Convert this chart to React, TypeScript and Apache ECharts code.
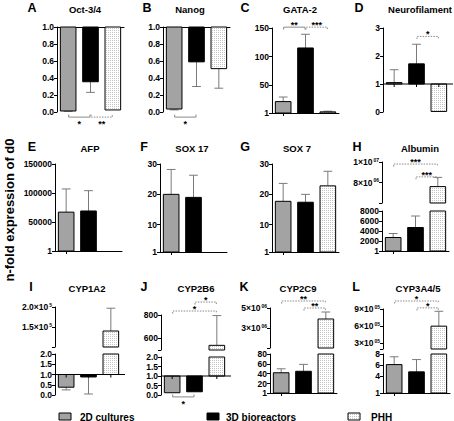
import React, { useEffect, useRef } from "react";
import * as echarts from "echarts";

// ---------- data ----------
const groups = ["2D cultures", "3D bioreactors", "PHH"];

const oct34Mean = [0.012, 0.356, 0.024];
const oct34Err = [0.004, 0.125, 0.0];
const nanogMean = [0.035, 0.59, 0.51];
const nanogErr = [0.01, 0.29, 0.23];
const gata2Mean = [21, 115, 3];
const gata2Err = [8, 24, 1.2];
const neuroMean = [1.05, 1.72, 0.02];
const neuroErr = [0.46, 0.7, 0];
const afpMean = [67000, 69000, null];
const afpErr = [40000, 35000, null];
const sox17Mean = [20, 19, null];
const sox17Err = [8.2, 7.3, null];
const sox7Mean = [17.7, 17.4, 22.8];
const sox7Err = [5.9, 2.6, 4.8];
const albuminMean = [2700, 4700, 7.6e6];
const albuminErr = [800, 2300, 0.9e6];
const cyp1a2Mean = [0.38, 0.88, 1.4e5];
const cyp1a2Err = [0.13, 0.83, 0.57e5];
const cyp2b6Mean = [0.12, 0.17, 540];
const cyp2b6Err = [0, 0, 255];
const cyp2c9Mean = [42, 45, 3.9e6];
const cyp2c9Err = [8, 14, 0.7e6];
const cyp3a4Mean = [6.1, 4.8, 6.0e5];
const cyp3a4Err = [1.4, 2.2, 2.6e5];

// significance brackets: [from group, to group, y value, label]
const oct34Sig = [[0, 1, -0.06, "*"], [1, 2, -0.06, "**"]];
const nanogSig = [[0, 1, -0.06, "*"]];
const gata2Sig = [[0, 1, 151.5, "**"], [1, 2, 151.5, "***"]];
const neuroSig = [[1, 2, 2.7, "*"]];
const albuminSig = [[0, 2, 9.8e6, "***"], [1, 2, 8.55e6, "***"]];
const cyp2b6TopSig = [[1, 2, 911, "*"], [0, 2, 834, "*"]];
const cyp2b6LowSig = [[0, 1, -0.1, "*"]];
const cyp2c9Sig = [[0, 2, 5.7e6, "**"], [1, 2, 5.0e6, "**"]];
const cyp3a4Sig = [[0, 2, 1.04e6, "*"], [1, 2, 9.2e5, "*"]];

// tick label sets
const gataTicks = [1, 50, 100, 150];
const afpTicks = [1, 50000, 100000, 150000];
const soxTicks = [1, 10, 20, 30];
const albUpperTicks = [8e6, 1e7];
const albLowerTicks = [1, 2000, 4000, 6000, 8000];
const cyp1a2UpperTicks = [1.5e5, 2e5];
const cyp2b6UpperTicks = [600, 800];
const cyp2c9UpperTicks = [3e6, 5e6];
const cyp2c9LowerTicks = [1, 20, 40, 60, 80];
const cyp3a4UpperTicks = [3e5, 6e5, 9e5];
const cyp3a4LowerTicks = [1, 4, 6, 8];

// ---------- styles ----------
const FONT = "Liberation Sans, Arial, Helvetica, sans-serif";
const dotSvg =
  '<svg xmlns="http://www.w3.org/2000/svg" width="2" height="2"><rect width="2" height="2" fill="#ffffff"/><rect width="1" height="1" fill="#c4c4c4"/></svg>';
const phhFill: any = {
  image: "data:image/svg+xml;charset=utf-8," + encodeURIComponent(dotSvg),
  repeat: "repeat",
  imageWidth: 2,
  imageHeight: 2,
};
const barFills: any[] = ["#a3a3a3", "#000000", phhFill];
const ERR_COLOR = "#7a7a7a";
const SIG_COLOR = "#8a8a8a";

const f1 = (v: number) => v.toFixed(1);
const plain = (v: number) => String(v);
const sciPad = (v: number) => {
  const e = Math.floor(Math.log10(v) + 1e-9);
  const m = Math.round(v / Math.pow(10, e));
  return `${m}×10{s|${String(e).padStart(2, "0")}}`;
};
const sci5 = (v: number) => `${(v / 1e5).toFixed(1)}×10{s|5}`;

type Seg = {
  top: number;
  height: number;
  min: number;
  max: number;
  interval?: number;
  labels?: number[];
  ticks?: number[];
  fmt: (v: number) => string;
  base: number;
  xAxis: "top" | "bottom" | "none";
  baseline?: boolean;
  sig?: any[];
};
type Panel = {
  letter: string;
  title: string;
  mean: (number | null)[];
  err: (number | null)[];
  left: number;
  letterX: number;
  titleX: number;
  row: number;
  segs: Seg[];
};

const rowY = [8, 147, 287];
const GW = 67;

const panels: Panel[] = [
  {
    letter: "A", title: "Oct-3/4", mean: oct34Mean, err: oct34Err, left: 57, letterX: 32, titleX: 85, row: 0,
    segs: [{ top: 27, height: 85, min: 0, max: 1, interval: 0.2, fmt: f1, base: 1, xAxis: "top", sig: oct34Sig }],
  },
  {
    letter: "B", title: "Nanog", mean: nanogMean, err: nanogErr, left: 163, letterX: 147, titleX: 190, row: 0,
    segs: [{ top: 27, height: 85, min: 0, max: 1, interval: 0.2, fmt: f1, base: 1, xAxis: "top", sig: nanogSig }],
  },
  {
    letter: "C", title: "GATA-2", mean: gata2Mean, err: gata2Err, left: 272, letterX: 245, titleX: 300, row: 0,
    segs: [{ top: 28, height: 85, min: 1, max: 150, labels: gataTicks, fmt: plain, base: 1, xAxis: "bottom", sig: gata2Sig }],
  },
  {
    letter: "D", title: "Neurofilament", mean: neuroMean, err: neuroErr, left: 383, letterX: 359, titleX: 420, row: 0,
    segs: [{ top: 28, height: 84, min: 0, max: 3, interval: 1, fmt: plain, base: 1, xAxis: "none", baseline: true, sig: neuroSig }],
  },
  {
    letter: "E", title: "AFP", mean: afpMean, err: afpErr, left: 55, letterX: 32, titleX: 90, row: 1,
    segs: [{ top: 164, height: 87, min: 1, max: 150000, labels: afpTicks, fmt: plain, base: 1, xAxis: "bottom" }],
  },
  {
    letter: "F", title: "SOX 17", mean: sox17Mean, err: sox17Err, left: 160, letterX: 144, titleX: 192, row: 1,
    segs: [{ top: 164, height: 88, min: 1, max: 30, labels: soxTicks, fmt: plain, base: 1, xAxis: "bottom" }],
  },
  {
    letter: "G", title: "SOX 7", mean: sox7Mean, err: sox7Err, left: 272, letterX: 245, titleX: 297, row: 1,
    segs: [{ top: 164, height: 88, min: 1, max: 30, labels: soxTicks, fmt: plain, base: 1, xAxis: "bottom" }],
  },
  {
    letter: "H", title: "Albumin", mean: albuminMean, err: albuminErr, left: 382, letterX: 357, titleX: 420, row: 1,
    segs: [
      { top: 162, height: 41, min: 6e6, max: 1e7, labels: albUpperTicks, ticks: [6e6, ...albUpperTicks], fmt: sciPad, base: 6e6, xAxis: "none", sig: albuminSig },
      { top: 211, height: 40, min: 1, max: 8000, labels: albLowerTicks, fmt: plain, base: 1, xAxis: "bottom" },
    ],
  },
  {
    letter: "I", title: "CYP1A2", mean: cyp1a2Mean, err: cyp1a2Err, left: 55, letterX: 31, titleX: 87, row: 2,
    segs: [
      { top: 307, height: 40, min: 1e5, max: 2e5, labels: cyp1a2UpperTicks, ticks: [1e5, ...cyp1a2UpperTicks], fmt: sci5, base: 1e5, xAxis: "none" },
      { top: 354, height: 41, min: 0, max: 2, interval: 0.5, fmt: f1, base: 1, xAxis: "none", baseline: true },
    ],
  },
  {
    letter: "J", title: "CYP2B6", mean: cyp2b6Mean, err: cyp2b6Err, left: 161, letterX: 144, titleX: 196, row: 2,
    segs: [
      { top: 315, height: 35, min: 500, max: 800, labels: cyp2b6UpperTicks, ticks: [500, ...cyp2b6UpperTicks], fmt: plain, base: 500, xAxis: "none", sig: cyp2b6TopSig },
      { top: 357, height: 38, min: 0, max: 2, interval: 0.5, fmt: f1, base: 1, xAxis: "none", baseline: true, sig: cyp2b6LowSig },
    ],
  },
  {
    letter: "K", title: "CYP2C9", mean: cyp2c9Mean, err: cyp2c9Err, left: 270, letterX: 244, titleX: 298, row: 2,
    segs: [
      { top: 308, height: 40, min: 1e6, max: 5e6, labels: cyp2c9UpperTicks, ticks: [1e6, ...cyp2c9UpperTicks], fmt: sciPad, base: 1e6, xAxis: "none", sig: cyp2c9Sig },
      { top: 354, height: 39, min: 1, max: 80, labels: cyp2c9LowerTicks, fmt: plain, base: 1, xAxis: "bottom" },
    ],
  },
  {
    letter: "L", title: "CYP3A4/5", mean: cyp3a4Mean, err: cyp3a4Err, left: 383, letterX: 356, titleX: 418, row: 2,
    segs: [
      { top: 309, height: 40, min: 2e5, max: 9e5, labels: cyp3a4UpperTicks, ticks: [2e5, ...cyp3a4UpperTicks], fmt: sciPad, base: 2e5, xAxis: "none", sig: cyp3a4Sig },
      { top: 354, height: 39, min: 1, max: 8, labels: cyp3a4LowerTicks, fmt: plain, base: 1, xAxis: "bottom" },
    ],
  },
];

// ---------- renderers ----------
function barRenderer(base: number) {
  return (params: any, api: any) => {
    const cs = params.coordSys;
    const i = api.value(0) as number;
    const v = api.value(1) as number;
    const e = api.value(2) as number;
    const band = api.size([1, 0])[0];
    const bw = band * 0.7;
    const top = cs.y;
    const bottom = cs.y + cs.height;
    const clamp = (y: number) => Math.max(top, Math.min(bottom, y));
    const pv = api.coord([i, v]);
    const cx = pv[0];
    const yb = clamp(api.coord([i, base])[1]);
    const yv = clamp(pv[1]);
    const children: any[] = [];
    if (e > 0) {
      const dir = v >= base ? 1 : -1;
      const yeRaw = api.coord([i, v + dir * e])[1];
      const y1 = clamp(pv[1]);
      const y2 = clamp(yeRaw);
      if (Math.abs(y1 - y2) > 0.01) {
        children.push({ type: "line", shape: { x1: cx, y1, x2: cx, y2 }, style: { stroke: ERR_COLOR, lineWidth: 1 } });
        if (yeRaw >= top - 0.5 && yeRaw <= bottom + 0.5) {
          children.push({
            type: "line",
            shape: { x1: cx - bw * 0.28, y1: y2, x2: cx + bw * 0.28, y2 },
            style: { stroke: ERR_COLOR, lineWidth: 1 },
          });
        }
      }
    }
    if (Math.abs(yb - yv) > 0.01) {
      children.push({
        type: "rect",
        shape: { x: cx - bw / 2, y: Math.min(yb, yv), width: bw, height: Math.abs(yb - yv) },
        style: { fill: barFills[i], stroke: "#000", lineWidth: 1 },
      });
    }
    return { type: "group", children };
  };
}

function baselineRenderer(params: any, api: any) {
  const cs = params.coordSys;
  const p = api.coord([api.value(0), api.value(1)]);
  const children: any[] = [
    { type: "line", shape: { x1: p[0], y1: p[1], x2: p[0], y2: p[1] + 3 }, style: { stroke: "#000", lineWidth: 1 } },
  ];
  if (params.dataIndex === 0) {
    children.push({
      type: "line",
      shape: { x1: cs.x, y1: p[1], x2: cs.x + cs.width + 3, y2: p[1] },
      style: { stroke: "#000", lineWidth: 1 },
    });
  }
  return { type: "group", children };
}

function bracketRenderer(sig: any[], segMin: number) {
  return (params: any, api: any) => {
    const b = sig[params.dataIndex];
    const a = api.value(0) as number;
    const c = api.value(1) as number;
    const y = api.value(2) as number;
    const p1 = api.coord([a, y]);
    const p2 = api.coord([c, y]);
    const below = y < segMin;
    const t = below ? -2.5 : 2.5;
    const dotted = c === 2;
    const x1 = p1[0] + 0.5;
    const x2 = p2[0] - 0.5;
    return {
      type: "group",
      children: [
        {
          type: "polyline",
          shape: { points: [[x1, p1[1] + t], [x1, p1[1]], [x2, p2[1]], [x2, p2[1] + t]] },
          style: { stroke: SIG_COLOR, lineWidth: 1, fill: "none", lineDash: dotted ? [1.5, 1.2] : null },
        },
        {
          type: "text",
          x: (x1 + x2) / 2,
          y: below ? p1[1] + 7 : p1[1] - 2.2,
          style: {
            text: b[3],
            fill: "#000",
            fontSize: 9,
            fontWeight: "bold",
            fontFamily: FONT,
            align: "center",
            verticalAlign: "middle",
          },
        },
      ],
    };
  };
}

// ---------- option ----------
function buildOption() {
  const grid: any[] = [];
  const xAxis: any[] = [];
  const yAxis: any[] = [];
  const series: any[] = [];
  const graphic: any[] = [];

  panels.forEach((p) => {
    graphic.push({
      type: "text",
      x: p.letterX,
      y: rowY[p.row],
      style: { text: p.letter, fill: "#000", fontSize: 12.5, fontWeight: "bold", fontFamily: FONT, textAlign: "center", textVerticalAlign: "middle" },
    });
    graphic.push({
      type: "text",
      x: p.titleX,
      y: rowY[p.row] + 1,
      style: { text: p.title, fill: "#000", fontSize: 9.5, fontWeight: "bold", fontFamily: FONT, textAlign: "center", textVerticalAlign: "middle" },
    });

    p.segs.forEach((s) => {
      const gi = grid.length;
      grid.push({ left: p.left, top: s.top, width: GW, height: s.height });
      xAxis.push({
        type: "category",
        gridIndex: gi,
        data: groups,
        boundaryGap: true,
        position: s.xAxis === "top" ? "top" : "bottom",
        show: s.xAxis !== "none",
        axisLine: { show: true, onZero: false, lineStyle: { color: "#000", width: 1 } },
        axisTick: { show: s.xAxis === "bottom", alignWithLabel: true, length: 3, lineStyle: { color: "#000" } },
        axisLabel: { show: false },
        splitLine: { show: false },
      });
      const yLabel: any = {
        show: true,
        fontSize: 8.5,
        fontWeight: "bold",
        color: "#000",
        fontFamily: FONT,
        margin: 3,
        formatter: (v: number) => s.fmt(v),
        rich: { s: { fontSize: 5, fontWeight: "bold", color: "#000", fontFamily: FONT, padding: [0, 0, 5, 1] } },
      };
      const yTick: any = { show: true, length: 3, lineStyle: { color: "#000" } };
      if (s.labels) yLabel.customValues = s.labels;
      if (s.ticks || s.labels) yTick.customValues = s.ticks || s.labels;
      const ya: any = {
        type: "value",
        gridIndex: gi,
        min: s.min,
        max: s.max,
        axisLine: { show: true, lineStyle: { color: "#000", width: 1 } },
        axisTick: yTick,
        axisLabel: yLabel,
        splitLine: { show: false },
      };
      if (s.interval) ya.interval = s.interval;
      yAxis.push(ya);

      const data = p.mean
        .map((m, i) => (m == null ? null : [i, m, p.err[i] ?? 0]))
        .filter((d) => d !== null);
      series.push({
        type: "custom",
        xAxisIndex: gi,
        yAxisIndex: gi,
        clip: false,
        z: 2,
        itemStyle: { color: "#000" },
        data,
        renderItem: barRenderer(s.base),
      });
      if (s.baseline) {
        series.push({
          type: "custom",
          xAxisIndex: gi,
          yAxisIndex: gi,
          clip: false,
          z: 3,
          itemStyle: { color: "#000" },
          data: groups.map((_, i) => [i, s.base]),
          renderItem: baselineRenderer,
        });
      }
      if (s.sig) {
        series.push({
          type: "custom",
          xAxisIndex: gi,
          yAxisIndex: gi,
          clip: false,
          z: 4,
          itemStyle: { color: "#000" },
          data: s.sig.map((b: any[]) => [b[0], b[1], b[2]]),
          renderItem: bracketRenderer(s.sig, s.min),
        });
      }
    });
  });

  // y-axis title
  graphic.push({
    type: "text",
    x: 9,
    y: 210,
    rotation: Math.PI / 2,
    style: {
      text: "n-fold expression of d0",
      fill: "#000",
      fontSize: 13,
      fontWeight: "bold",
      fontFamily: FONT,
      textAlign: "center",
      textVerticalAlign: "middle",
    },
  });

  // legend
  const legendBoxX = [59, 207, 348];
  const legendTextX = [80, 226, 371];
  groups.forEach((g, i) => {
    graphic.push({
      type: "rect",
      shape: { x: legendBoxX[i], y: 413, width: 12, height: 7 },
      style: { fill: barFills[i], stroke: "#000", lineWidth: 1 },
    });
    graphic.push({
      type: "text",
      x: legendTextX[i],
      y: 417,
      style: { text: g, fill: "#000", fontSize: 10, fontWeight: "bold", fontFamily: FONT, textAlign: "left", textVerticalAlign: "middle" },
    });
  });

  return {
    animation: false,
    backgroundColor: "#ffffff",
    textStyle: { fontFamily: FONT },
    grid,
    xAxis,
    yAxis,
    series,
    graphic,
  };
}

export default function App() {
  const ref = useRef<HTMLDivElement>(null);
  useEffect(() => {
    if (!ref.current) return;
    const chart = echarts.init(ref.current, null, { renderer: "svg" });
    chart.setOption(buildOption() as any);
    return () => chart.dispose();
  }, []);
  return (
    <div
      ref={ref}
      style={{ position: "fixed", left: 0, top: 0, width: 454, height: 421, background: "#fff" }}
    />
  );
}
